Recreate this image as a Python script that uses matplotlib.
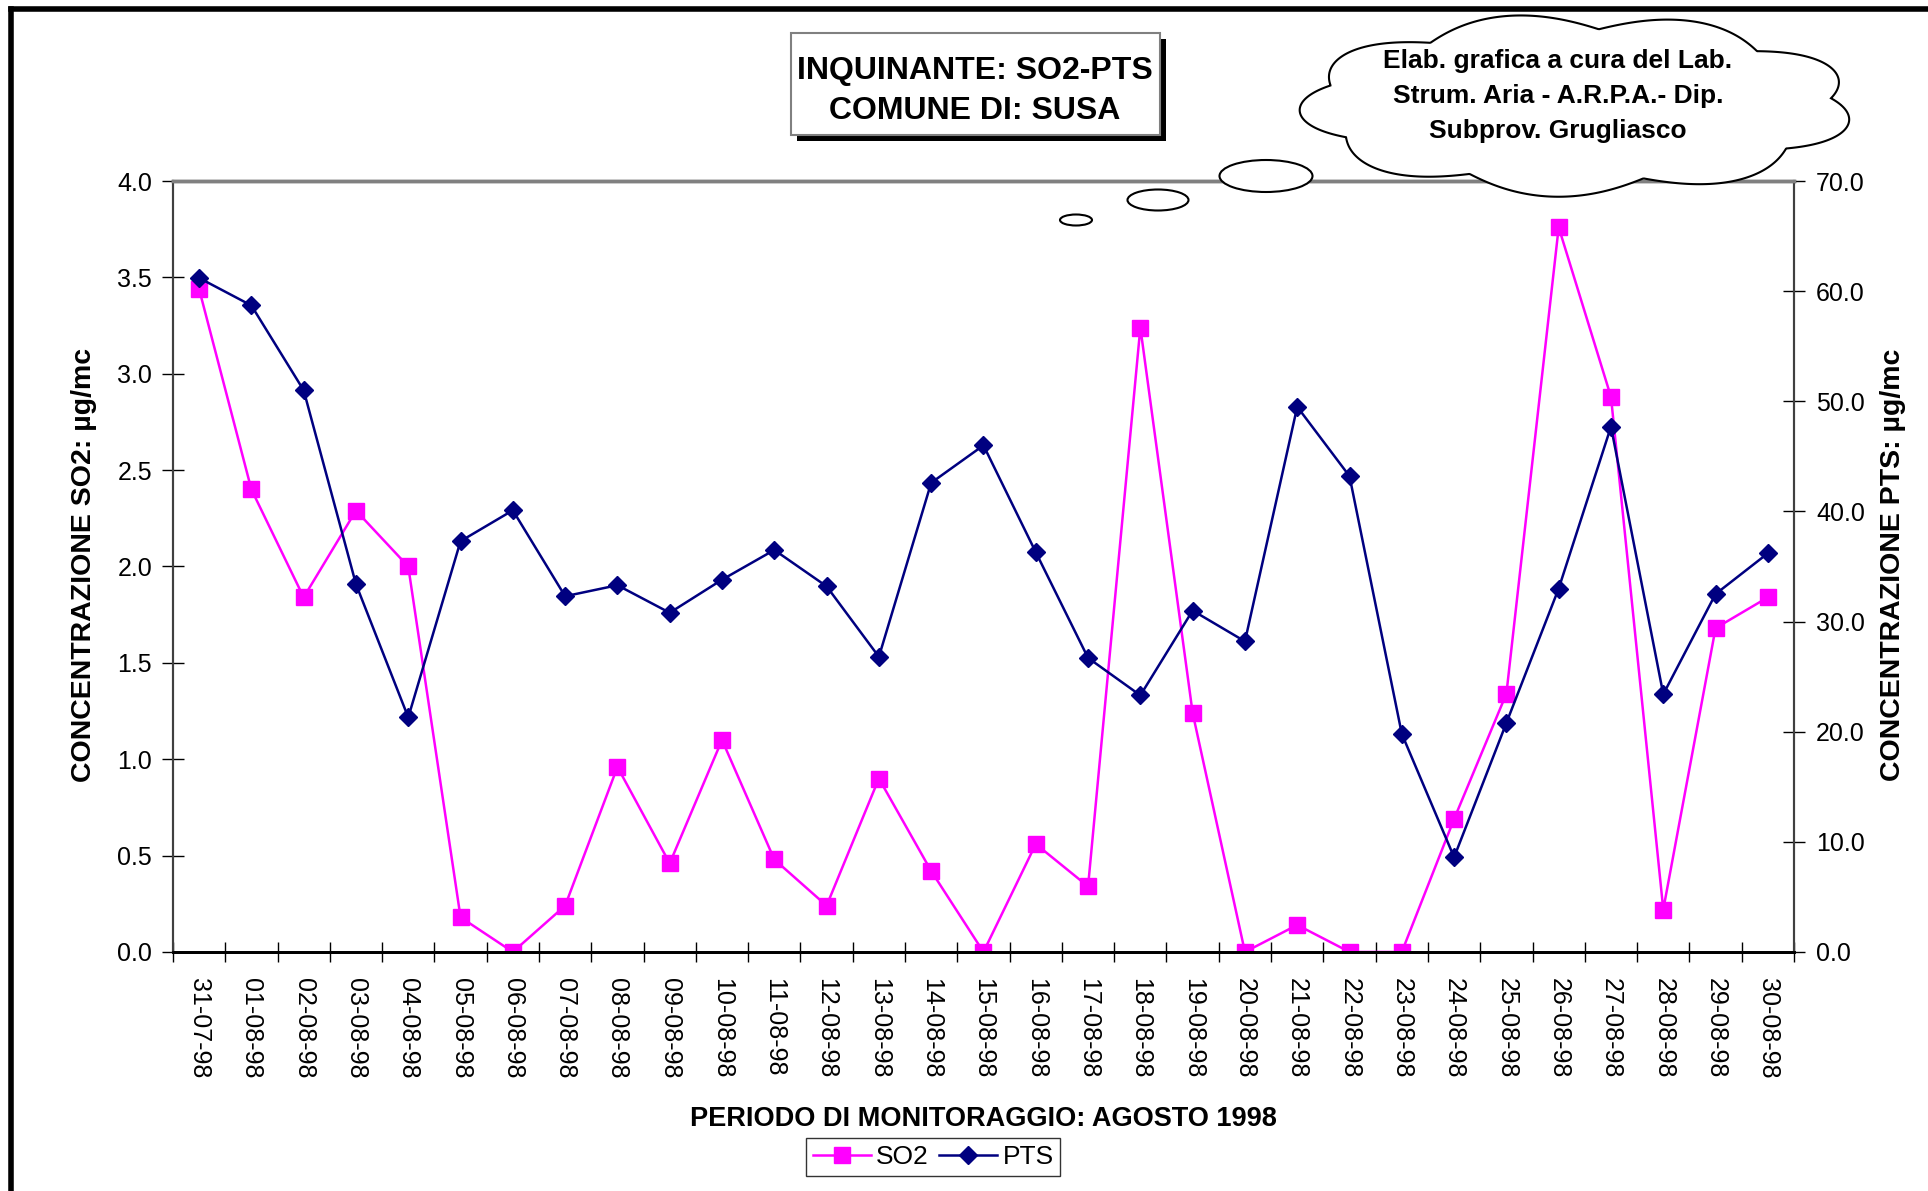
import numpy as np
import matplotlib.pyplot as plt
from matplotlib.patches import Rectangle, Ellipse, Polygon
from matplotlib.lines import Line2D

plt.rcParams['font.family'] = ['Liberation Sans', 'DejaVu Sans']

# data
dates = ['31-07-98'] + ['%02d-08-98' % d for d in range(1, 31)]
so2 = [3.44, 2.40, 1.84, 2.29, 2.00, 0.18, 0.00, 0.24, 0.96, 0.46,
       1.10, 0.48, 0.24, 0.90, 0.42, 0.00, 0.56, 0.34, 3.24, 1.24,
       0.00, 0.14, 0.00, 0.00, 0.69, 1.34, 3.76, 2.88, 0.22, 1.68, 1.84]
pts = [61.2, 58.7, 51.0, 33.4, 21.3, 37.3, 40.1, 32.3, 33.3, 30.8,
       33.8, 36.5, 33.2, 26.8, 42.6, 46.0, 36.3, 26.7, 23.3, 31.0,
       28.2, 49.5, 43.2, 19.8, 8.6, 20.8, 33.0, 47.7, 23.4, 32.5, 36.2]
so2_ticks = np.arange(0, 4.01, 0.5)
pts_ticks = np.arange(0, 70.1, 10)

fig = plt.figure(figsize=(19.28, 11.91), dpi=100)
ax = fig.add_axes([0.0897, 0.2007, 0.8408, 0.6473])
ax2 = ax.twinx()

x = np.arange(len(dates))
l1, = ax.plot(x, so2, color='#FF00FF', lw=1.8, marker='s', ms=11, label='SO2')
l2, = ax2.plot(x, pts, color='#000080', lw=1.8, marker='D', ms=9, label='PTS')

ax.set_xlim(-0.5, len(dates) - 0.5)
ax.set_ylim(0, 4)
ax2.set_ylim(0, 70)
ax.set_yticks(so2_ticks)
ax.set_yticklabels(['%.1f' % v for v in so2_ticks])
ax2.set_yticks(pts_ticks)
ax2.set_yticklabels(['%.1f' % v for v in pts_ticks])

ax.set_xticks(np.arange(-0.5, len(dates), 1))
ax.set_xticklabels([])
ax.set_xticks(x, minor=True)
ax.set_xticklabels(dates, minor=True, rotation=-90, fontsize=18)
ax.tick_params(axis='x', which='major', direction='inout', length=14, width=1)
ax.tick_params(axis='x', which='minor', length=0, pad=19)
ax.tick_params(axis='y', direction='inout', length=16, width=1, labelsize=18, pad=7)
ax2.tick_params(axis='y', direction='inout', length=16, width=1, labelsize=18, pad=8)

for a in (ax, ax2):
    a.spines['top'].set_color('#808080')
    a.spines['top'].set_linewidth(2.5)
    a.spines['bottom'].set_color('black')
    a.spines['bottom'].set_linewidth(2)
    a.spines['left'].set_color('#404040')
    a.spines['left'].set_linewidth(1.5)
    a.spines['right'].set_color('#404040')
    a.spines['right'].set_linewidth(1.5)

fig.text(0.0436, 0.526, 'CONCENTRAZIONE SO2: µg/mc', rotation=90, ha='center', va='center',
         fontsize=20.5, fontweight='bold')
fig.text(0.982, 0.526, 'CONCENTRAZIONE PTS: µg/mc', rotation=90, ha='center', va='center',
         fontsize=20.5, fontweight='bold')
fig.text(0.51, 0.0605, 'PERIODO DI MONITORAGGIO: AGOSTO 1998', ha='center', va='center',
         fontsize=19.5, fontweight='bold')

fig.legend([l1, l2], ['SO2', 'PTS'], loc='center', bbox_to_anchor=(0.484, 0.0285), ncol=2,
           fontsize=19, frameon=True, fancybox=False, edgecolor='black', handlelength=2.2,
           columnspacing=0.4, handletextpad=0.2, borderpad=0.25, borderaxespad=0)

# overlay in pixel coordinates for title box, cloud and frame
ov = fig.add_axes([0, 0, 1, 1], zorder=10)
ov.set_xlim(0, 1928)
ov.set_ylim(1191, 0)
ov.axis('off')
ov.patch.set_alpha(0)

ov.add_line(Line2D([11, 1928], [9, 9], color='black', lw=4))
ov.add_line(Line2D([11, 11], [9, 1191], color='black', lw=4))

ov.add_patch(Rectangle((797, 39), 369, 102, facecolor='black', edgecolor='none'))
ov.add_patch(Rectangle((791, 33), 369, 102, facecolor='white', edgecolor='#808080', lw=1.5))
ov.text(975, 71, 'INQUINANTE: SO2-PTS', ha='center', va='center', fontsize=23, fontweight='bold')
ov.text(975, 111, 'COMUNE DI: SUSA', ha='center', va='center', fontsize=23, fontweight='bold')

# cloud callout
t = np.linspace(0, 2 * np.pi, 1200)
bump = np.abs(np.sin(4.5 * t + 0.4))
cx, cy = 1577, 105
cxs = cx + (255 + 23 * bump) * np.cos(t)
cys = cy + (76 + 16 * bump) * np.sin(t)
ov.add_patch(Polygon(np.column_stack([cxs, cys]), closed=True, facecolor='white',
                     edgecolor='black', lw=1.5))
for ex, ey, ew, eh in [(1266, 176, 93, 32), (1158, 200, 61, 21), (1076, 220, 32, 11)]:
    ov.add_patch(Ellipse((ex, ey), ew, eh, facecolor='white', edgecolor='black', lw=1.5))
for yy, s in [(61, 'Elab. grafica a cura del Lab.'), (96, 'Strum. Aria - A.R.P.A.- Dip.'),
              (131, 'Subprov. Grugliasco')]:
    ov.text(1558, yy, s, ha='center', va='center', fontsize=19, fontweight='bold')

fig.savefig('out.png', dpi=100)
